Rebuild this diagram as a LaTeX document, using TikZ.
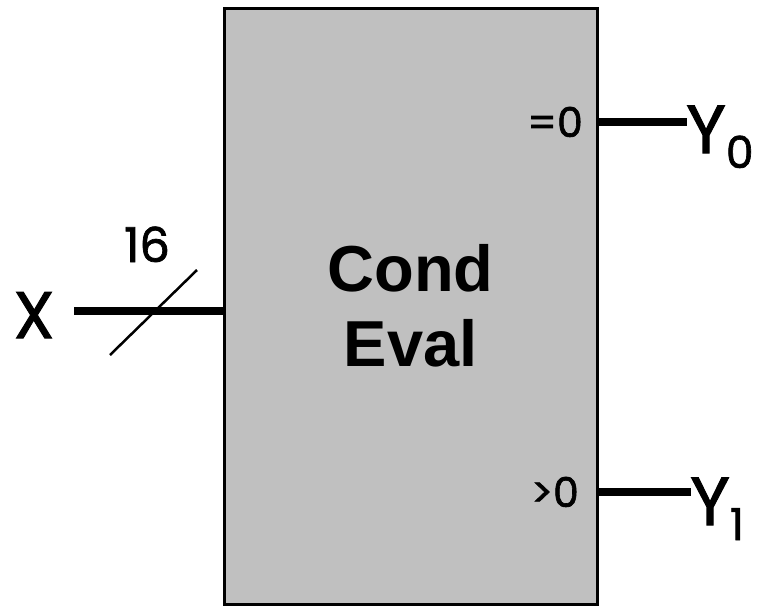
\documentclass[tikz,border=0pt]{standalone}
\usepackage{fontspec}
\setmainfont{Poppins}[FakeBold=1.5]
\setsansfont{Liberation Sans}
\usetikzlibrary{positioning}
\definecolor{blockgray}{HTML}{C0C0C0}

\begin{document}
\begin{tikzpicture}[
  x=1pt, y=-1pt,
  block/.style={rectangle, draw, fill=blockgray, line width=3pt, inner sep=0pt,
    minimum width=373pt, minimum height=596pt, align=center,
    font=\sffamily\bfseries\fontsize{65}{75}\selectfont},
  lbl/.style={inner sep=0pt},
  bus/.style={line width=8pt},
  wire/.style={line width=8pt},
  tick/.style={line width=2.5pt}
]
\useasboundingbox (0,0) rectangle (757,606);
\node[block] (ce) at (410.5,306) {Cond\\Eval};
% input
\coordinate (xin) at (74,311);
\coordinate (t1) at (110,355);
\coordinate (t2) at (197,270);
\draw[bus] (xin) -- (ce.west |- xin);
\draw[tick] (t1) -- (t2);
\node[lbl, anchor=base, font=\fontsize{66}{66}\selectfont] (xl) at (34,338) {X};
\node[lbl, anchor=base, font=\fontsize{48}{48}\selectfont] (wd) at (147,262) {16};
% outputs
\node[lbl, anchor=base east, font=\fontsize{41}{41}\selectfont] (eq) at (583,137) {=0};
\node[lbl, anchor=base east, font=\fontsize{41}{41}\selectfont] (gt) at (579,507) {>0};
\coordinate (o0) at (687,122);
\coordinate (o1) at (691,492);
\draw[wire] (ce.east |- o0) -- (o0);
\draw[wire] (ce.east |- o1) -- (o1);
\node[lbl, anchor=base west, font=\fontsize{68}{68}\selectfont] (y0) at (686,153)
  {Y\raisebox{-15pt}{\fontsize{44}{44}\selectfont 0}};
\node[lbl, anchor=base west, font=\fontsize{68}{68}\selectfont] (y1) at (690,525)
  {Y\raisebox{-15pt}{\fontsize{44}{44}\selectfont 1}};
\end{tikzpicture}
\end{document}
